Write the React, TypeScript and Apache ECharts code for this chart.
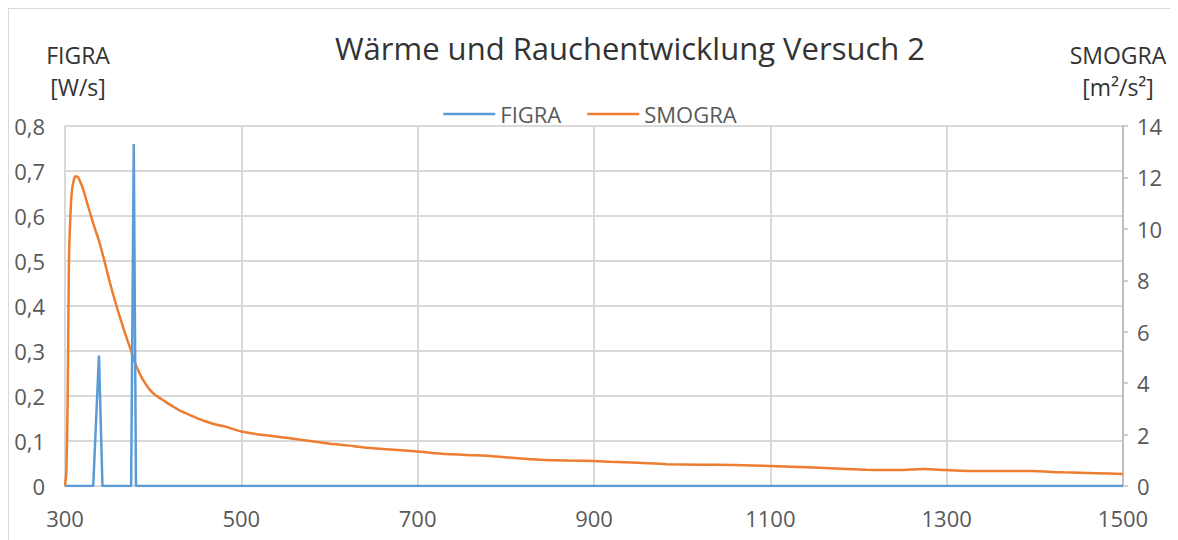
import React, { useEffect, useRef } from "react";
import * as echarts from "echarts";

const TITLE = "Wärme und Rauchentwicklung Versuch 2";
const FIGRA_NAME = "FIGRA";
const SMOGRA_NAME = "SMOGRA";
const LEFT_AXIS_NAME = "FIGRA\n[W/s]";
const RIGHT_AXIS_NAME = "SMOGRA\n[m²/s²]";

const FIGRA_T = [300, 332, 338.5, 342.5, 375, 378, 380.5, 1500];
const FIGRA_V = [0, 0, 0.29, 0, 0, 0.76, 0, 0];

const SMOGRA_T = [
  300, 301.5, 303, 304.5, 306, 307.6, 310, 312, 315, 317, 320, 322.7, 326, 330, 334, 338, 342, 345.4,
  351, 356.7, 362, 368, 374, 379.4, 385, 390.8, 396, 402, 413, 423, 432, 441.8, 451, 460.7, 472, 483.4,
  490, 500, 525, 563, 601, 620, 639, 670, 700, 733, 760, 782, 810, 839, 870, 900, 919, 950, 982, 1020,
  1058, 1100, 1150, 1209, 1247, 1274, 1300, 1338, 1395, 1432, 1470, 1500,
];
const SMOGRA_V = [
  0, 0.5, 3.3, 8.8, 10.4, 11.4, 11.9, 12.05, 12.0, 11.85, 11.6, 11.3, 10.9, 10.45, 10.0, 9.6, 9.1, 8.66,
  7.9, 7.2, 6.6, 5.95, 5.35, 4.8, 4.35, 4.0, 3.75, 3.55, 3.3, 3.08, 2.9, 2.76, 2.62, 2.5, 2.38, 2.3,
  2.22, 2.12, 1.98, 1.82, 1.64, 1.58, 1.5, 1.42, 1.34, 1.24, 1.2, 1.17, 1.09, 1.02, 0.99, 0.97, 0.94, 0.9, 0.85, 0.83,
  0.82, 0.78, 0.72, 0.63, 0.62, 0.66, 0.62, 0.58, 0.58, 0.53, 0.5, 0.47,
];

const X_MIN = 300, X_MAX = 1500, X_STEP = 200;
const L_MIN = 0, L_MAX = 0.8, L_STEP = 0.1;
const R_MIN = 0, R_MAX = 14, R_STEP = 2;

const FONT = "'Open Sans', sans-serif";

export default function App() {
  const ref = useRef<HTMLDivElement>(null);
  useEffect(() => {
    if (!ref.current) return;
    const chart = echarts.init(ref.current, null, { renderer: "svg" });
    const fmtComma = (v: number) => (v === 0 ? "0" : v.toFixed(1).replace(".", ","));
    chart.setOption({
      animation: false,
      textStyle: { fontFamily: FONT },
      title: {
        text: TITLE,
        left: 616,
        textAlign: "center",
        top: 18,
        textStyle: { fontFamily: FONT, fontSize: 31, fontWeight: "normal", color: "#333333" },
      },
      legend: {
        top: 89,
        left: "center",
        icon: "rect",
        itemWidth: 52,
        itemHeight: 2.5,
        itemGap: 26,
        textStyle: { fontFamily: FONT, fontSize: 22, color: "#595959" },
        data: [FIGRA_NAME, SMOGRA_NAME],
      },
      graphic: [
        {
          type: "text",
          x: 69,
          y: 30,
          style: { text: LEFT_AXIS_NAME, font: `23px ${FONT}`, fill: "#333333", align: "center", verticalAlign: "top", lineHeight: 32 },
        },
        {
          type: "text",
          x: 1109,
          y: 30,
          style: { text: RIGHT_AXIS_NAME, font: `23px ${FONT}`, fill: "#333333", align: "center", verticalAlign: "top", lineHeight: 32 },
        },
      ],
      grid: { left: 56, right: 48, top: 117, bottom: 54, containLabel: false },
      xAxis: {
        type: "value",
        min: X_MIN,
        max: X_MAX,
        interval: X_STEP,
        axisLine: { show: true, lineStyle: { color: "#d9d9d9", width: 2 } },
        axisTick: { show: false },
        splitLine: { show: true, lineStyle: { color: "#d9d9d9", width: 2 } },
        axisLabel: { margin: 21, fontSize: 22, color: "#595959", fontFamily: FONT, formatter: (v: number) => String(v) },
      },
      yAxis: [
        {
          type: "value",
          min: L_MIN,
          max: L_MAX,
          interval: L_STEP,
          position: "left",
          axisLine: { show: true, lineStyle: { color: "#d9d9d9", width: 2 } },
          axisTick: { show: false },
          splitLine: { show: true, lineStyle: { color: "#d9d9d9", width: 2 } },
          axisLabel: { margin: 20, fontSize: 22, color: "#595959", fontFamily: FONT, formatter: fmtComma },
        },
        {
          type: "value",
          min: R_MIN,
          max: R_MAX,
          interval: R_STEP,
          position: "right",
          axisLine: { show: true, lineStyle: { color: "#bfbfbf", width: 2 } },
          axisTick: { show: true, inside: false, length: 5, lineStyle: { color: "#bfbfbf", width: 1.5 } },
          splitLine: { show: false },
          axisLabel: { margin: 14, fontSize: 22, color: "#595959", fontFamily: FONT },
        },
      ],
      series: [
        {
          name: FIGRA_NAME,
          type: "line",
          yAxisIndex: 0,
          symbol: "none",
          showSymbol: false,
          z: 3,
          lineStyle: { color: "#5B9BD5", width: 2.5 },
          itemStyle: { color: "#5B9BD5" },
          data: FIGRA_T.map((t, i) => [t, FIGRA_V[i]]),
        },
        {
          name: SMOGRA_NAME,
          type: "line",
          yAxisIndex: 1,
          symbol: "none",
          showSymbol: false,
          smooth: 0.2,
          z: 2,
          lineStyle: { color: "#ED7D31", width: 2.5 },
          itemStyle: { color: "#ED7D31" },
          data: SMOGRA_T.map((t, i) => [t, SMOGRA_V[i]]),
        },
      ],
    });
    return () => chart.dispose();
  }, []);
  return (
    <div style={{ width: 1162, height: 531, border: "1px solid #d9d9d9", background: "#fff" }}>
      <div ref={ref} style={{ width: 1162, height: 531 }} />
    </div>
  );
}
